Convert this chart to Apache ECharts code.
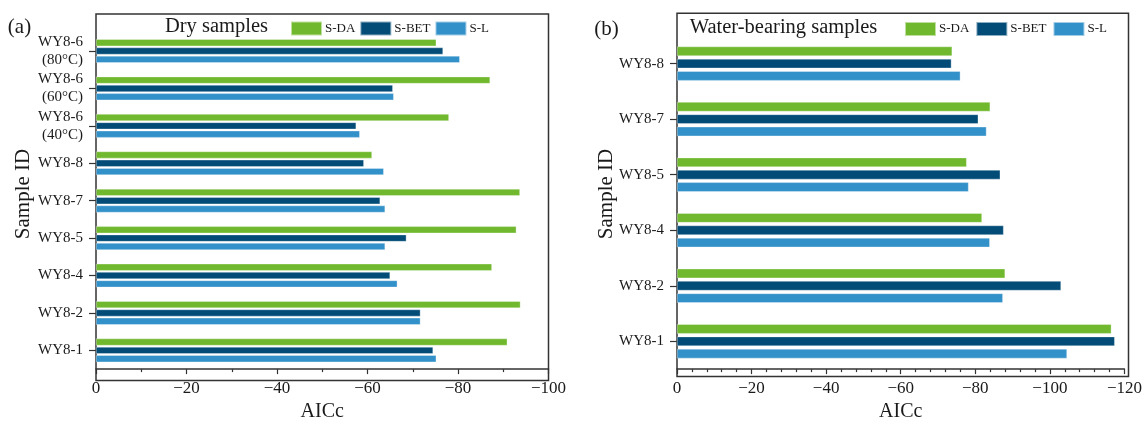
<!DOCTYPE html>
<html>
<head>
<meta charset="utf-8">
<style>
  html, body { margin: 0; padding: 0; background: #ffffff; }
  #chart { width: 1145px; height: 427px; }
</style>
<script src="https://cdn.jsdelivr.net/npm/echarts@6/dist/echarts.min.js"></script>
</head>
<body>
<div id="chart"></div>
<script>
// ---- Data ----
const dryCategories = ['WY8-1', 'WY8-2', 'WY8-4', 'WY8-5', 'WY8-7', 'WY8-8', 'WY8-6\n(40°C)', 'WY8-6\n(60°C)', 'WY8-6\n(80°C)'];
const dryDA  = [-90.9, -93.8, -87.5, -92.9, -93.7, -61.0, -78.0, -87.1, -75.2];
const dryBET = [-74.5, -71.7, -65.0, -68.6, -62.8, -59.2, -57.5, -65.6, -76.7];
const dryL   = [-75.2, -71.7, -66.6, -63.9, -63.9, -63.6, -58.3, -65.8, -80.4];

const wetCategories = ['WY8-1', 'WY8-2', 'WY8-4', 'WY8-5', 'WY8-7', 'WY8-8'];
const wetDA  = [-116.5, -88.0, -81.8, -77.7, -84.0, -73.8];
const wetBET = [-117.4, -103.0, -87.6, -86.7, -80.8, -73.6];
const wetL   = [-104.6, -87.4, -83.9, -78.2, -83.0, -76.0];

const seriesNames = ['S-DA', 'S-BET', 'S-L'];
const panelTitles = ['Dry samples', 'Water-bearing samples'];
const panelLetters = ['(a)', '(b)'];
const xTitle = 'AICc';
const yTitle = 'Sample ID';

// ---- Styling ----
const FONT = '"Liberation Serif", "Times New Roman", serif';
const TXT = '#1a1a1a';
const AX = '#333333';
const colors = ['#70b92e', '#034c78', '#3391c9'];

const fmt = v => (v === 0 ? '0' : '\u2212' + Math.abs(v));

function xAxisCfg(gridIndex, min, minorSplit) {
  return {
    type: 'value', gridIndex, inverse: true, min, max: 0, interval: 20,
    name: xTitle, nameLocation: 'middle', nameGap: 29,
    nameTextStyle: { fontFamily: FONT, fontSize: 20, color: TXT },
    axisLine: { show: true, lineStyle: { color: AX, width: 1.5 } },
    axisTick: { show: true, length: 5, lineStyle: { color: AX, width: 1.2 } },
    minorTick: { show: true, splitNumber: minorSplit, length: 3, lineStyle: { color: AX, width: 1.2 } },
    splitLine: { show: false },
    axisLabel: { fontFamily: FONT, fontSize: 17, color: TXT, margin: 11, formatter: fmt }
  };
}
function yAxisCfg(gridIndex, data) {
  return {
    type: 'category', gridIndex, data,
    axisLine: { show: false },
    axisTick: { show: true, alignWithLabel: true, length: 7, lineStyle: { color: AX, width: 1.2 } },
    axisLabel: { fontFamily: FONT, fontSize: 15, color: TXT, margin: 13, lineHeight: 18 },
    splitLine: { show: false }
  };
}
function barSeries(name, data, idx, gridIdx, width, gap) {
  return {
    type: 'bar', name, data,
    xAxisIndex: gridIdx, yAxisIndex: gridIdx,
    barWidth: width, barGap: gap,
    itemStyle: { color: colors[idx], borderColor: 'rgba(255,255,255,0.55)', borderWidth: 0.6 },
    emphasis: { disabled: true },
    animation: false
  };
}
function legendCfg(left, top, gap) {
  return {
    left, top, padding: 0, orient: 'horizontal',
    data: seriesNames, icon: 'rect',
    itemWidth: 31, itemHeight: 14, itemGap: gap,
    textStyle: { fontFamily: FONT, fontSize: 13, color: TXT, padding: [0, 0, 0, -2] },
    selectedMode: false
  };
}
function frame(x, y, w, h) {
  return { type: 'rect', shape: { x, y, width: w, height: h }, style: { fill: 'none', stroke: AX, lineWidth: 1.5 }, silent: true };
}
function txt(x, y, text, size, rotation) {
  return {
    type: 'text', x, y, rotation: rotation || 0,
    style: { text, fontFamily: FONT, fontSize: size, fill: TXT, align: 'center', verticalAlign: 'middle' },
    silent: true
  };
}

const chart = echarts.init(document.getElementById('chart'), null, { renderer: 'canvas' });
chart.setOption({
  backgroundColor: '#ffffff',
  animation: false,
  grid: [
    { left: 96, top: 32.3, width: 452.5, height: 348.2, containLabel: false },
    { left: 677, top: 35.8, width: 451.5, height: 340.4, containLabel: false }
  ],
  xAxis: [xAxisCfg(0, -100, 2), xAxisCfg(1, -120, 5)],
  yAxis: [yAxisCfg(0, dryCategories), yAxisCfg(1, wetCategories)],
  legend: [legendCfg(290, 20.5, 4), legendCfg(904, 21, 6)],
  series: [
    barSeries(seriesNames[0], dryDA, 0, 0, 7, '19%'),
    barSeries(seriesNames[1], dryBET, 1, 0, 7, '19%'),
    barSeries(seriesNames[2], dryL, 2, 0, 7, '19%'),
    barSeries(seriesNames[0], wetDA, 0, 1, 9.5, '30%'),
    barSeries(seriesNames[1], wetBET, 1, 1, 9.5, '30%'),
    barSeries(seriesNames[2], wetL, 2, 1, 9.5, '30%')
  ],
  graphic: [
    frame(96, 14, 452.5, 366.5),
    frame(677, 13.3, 451.5, 363.2),
    txt(216.5, 27, panelTitles[0], 20.5),
    txt(783.5, 28, panelTitles[1], 20.5),
    txt(19.5, 27, panelLetters[0], 21),
    txt(606.5, 29, panelLetters[1], 21),
    txt(23, 194, yTitle, 21, Math.PI / 2),
    txt(606, 194, yTitle, 21, Math.PI / 2)
  ]
});
</script>
</body>
</html>
